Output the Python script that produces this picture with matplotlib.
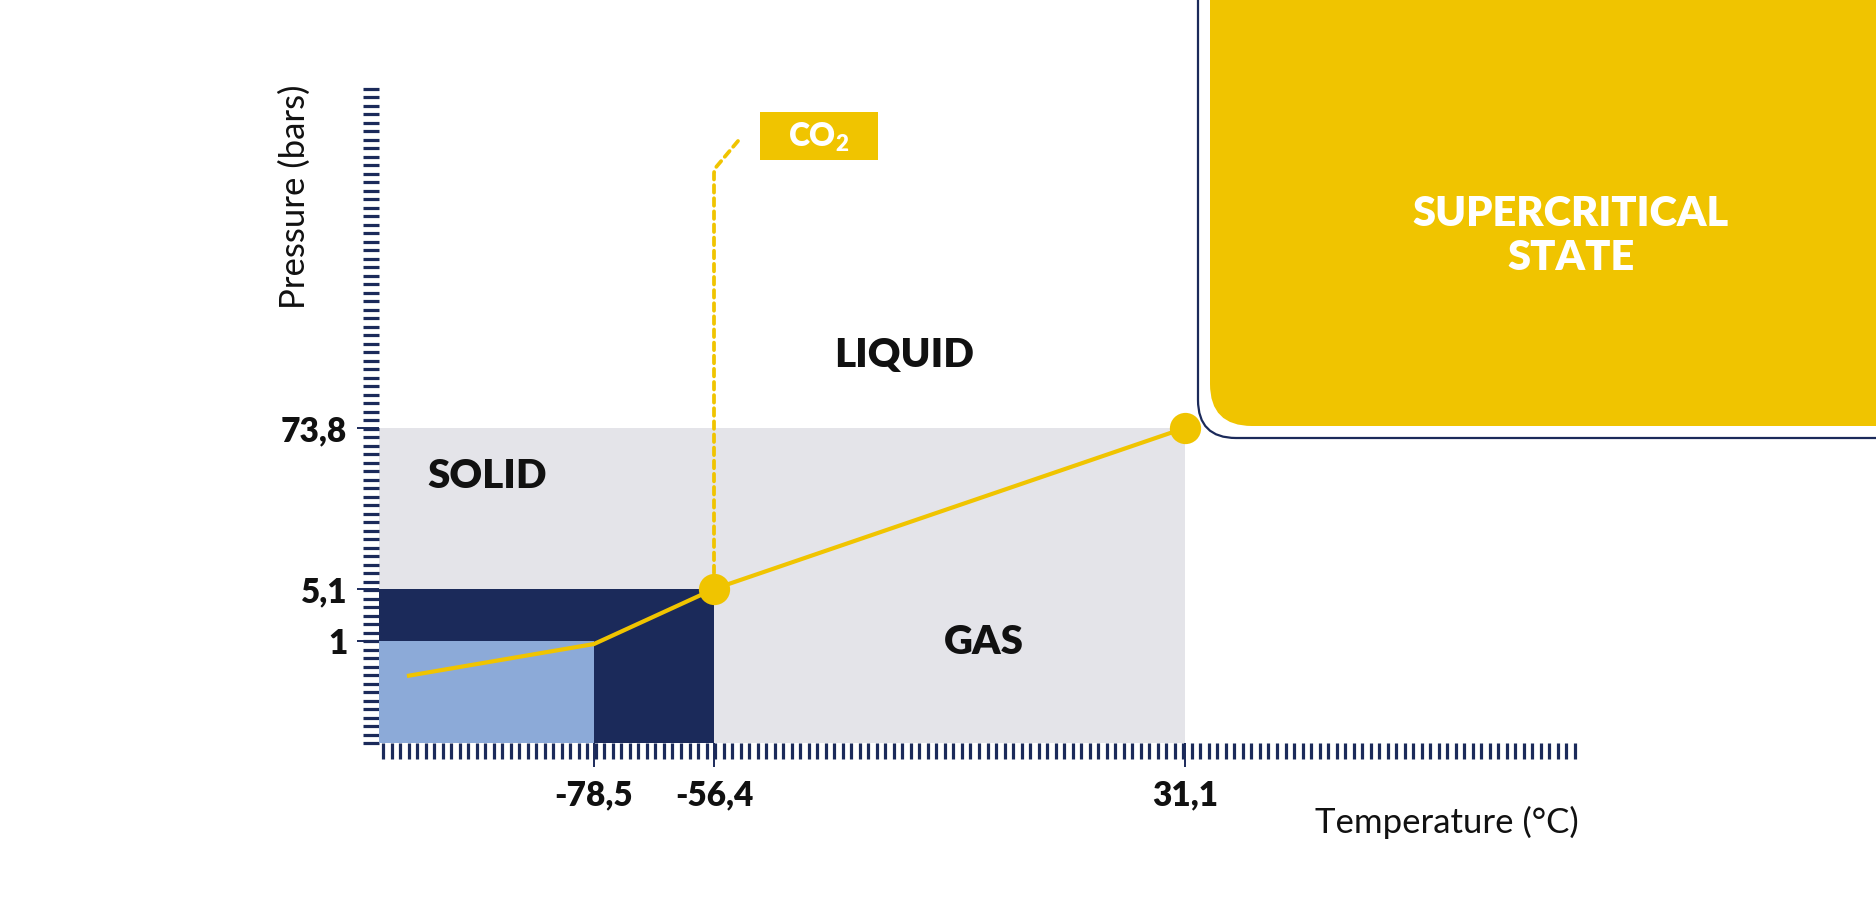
import numpy as np
import matplotlib
matplotlib.use('Agg')
import matplotlib.pyplot as plt
from matplotlib.patches import FancyBboxPatch, Rectangle
from matplotlib.ticker import FixedLocator

plt.rcParams['font.family'] = ['Lato', 'DejaVu Sans']
plt.rcParams['mathtext.default'] = 'regular'

# ---- data (CO2 phase diagram) ----
temp_ticks = [-78.5, -56.4, 31.1]
temp_labels = ['-78,5', '-56,4', '31,1']
pres_ticks = [1, 5.1, 73.8]
pres_labels = ['1', '5,1', '73,8']

curve_T = [-97, -78.5, -56.4, 31.1]
curve_P = [0.66, 0.97, 5.1, 73.8]
triple_point = (-56.4, 5.1)
critical_point = (31.1, 73.8)

t_min, t_max = -100, 80
p_min, p_max = 0, 220

# regions: (temperature limit, pressure limit)
gas_region = (31.1, 73.8)
solid_region = (-56.4, 5.1)
low_region = (-78.5, 1)

yellow = '#F0C400'
navy = '#1B2A5A'
lightblue = '#8CAAD8'
grey = '#E4E4E9'
ink = '#111111'

W, H = 1876, 917
fig = plt.figure(figsize=(W / 100, H / 100), dpi=100)

# axes box in pixels: left 379, right 1578, bottom 743, top 86
ax = fig.add_axes([379 / W, (H - 743) / H, 1199 / W, 657 / H])

# piecewise scales so the labelled values sit where the diagram puts them
t_break = [t_min] + temp_ticks + [t_max]
x_frac = [0, 0.1793, 0.2794, 0.6722, 1]
p_break = [p_min] + pres_ticks + [p_max]
y_frac = [0, 0.1553, 0.2344, 0.4795, 1]

fx = lambda t: np.interp(t, t_break, x_frac)
fx_inv = lambda f: np.interp(f, x_frac, t_break)
fy = lambda p: np.interp(p, p_break, y_frac)
fy_inv = lambda f: np.interp(f, y_frac, p_break)

ax.set_xscale('function', functions=(fx, fx_inv))
ax.set_yscale('function', functions=(fy, fy_inv))
ax.set_xlim(t_min, t_max)
ax.set_ylim(p_min, p_max)

ax.fill_between([t_min, gas_region[0]], p_min, gas_region[1], color=grey, lw=0, zorder=1)
ax.fill_between([t_min, solid_region[0]], p_min, solid_region[1], color=navy, lw=0, zorder=2)
ax.fill_between([t_min, low_region[0]], p_min, low_region[1], color=lightblue, lw=0, zorder=3)

ax.plot(curve_T, curve_P, color=yellow, lw=3.0, zorder=4, solid_joinstyle='miter')
ax.plot([triple_point[0], critical_point[0]], [triple_point[1], critical_point[1]],
        'o', ms=22.5, color=yellow, mec='none', zorder=6, clip_on=False)

for s in ax.spines.values():
    s.set_visible(False)
ax.set_facecolor('none')

ax.set_xticks(temp_ticks, temp_labels)
ax.set_yticks(pres_ticks, pres_labels)
ax.xaxis.set_minor_locator(FixedLocator(fx_inv((np.linspace(383, 1575, 141) - 379) / 1199)))
ax.yaxis.set_minor_locator(FixedLocator(fy_inv((743 - np.linspace(743, 89, 78)) / 657)))
ax.xaxis.set_minor_formatter(plt.NullFormatter())
ax.yaxis.set_minor_formatter(plt.NullFormatter())

ax.tick_params(axis='x', which='major', length=17.3, width=1.4, color=navy, pad=9)
ax.tick_params(axis='y', which='major', length=15.8, width=1.4, color=navy, pad=7)
ax.tick_params(which='minor', length=11.5, width=2.3, color=navy)
for lab in ax.get_xticklabels() + ax.get_yticklabels():
    lab.set_fontsize(24)
    lab.set_fontweight('heavy')
    lab.set_color(ink)

# ---- overlay in figure pixels for boxes and labels ----
deco = fig.add_axes([0, 0, 1, 1], zorder=3)
deco.set_xlim(0, W)
deco.set_ylim(H, 0)
deco.axis('off')
deco.set_facecolor('none')

deco.add_patch(FancyBboxPatch((1210, -300), W + 300 - 1210, 426 + 300,
                              boxstyle='round,pad=0,rounding_size=42',
                              facecolor=yellow, edgecolor='none'))
deco.add_patch(FancyBboxPatch((1198, -300), W + 300 - 1198, 438 + 300,
                              boxstyle='round,pad=0,rounding_size=38',
                              facecolor='none', edgecolor=navy, lw=1.6))
deco.text(1571, 236, 'SUPERCRITICAL\nSTATE', color='white', fontsize=30,
          fontweight='heavy', ha='center', va='center', linespacing=1.2)

# CO2 callout
deco.annotate('', xy=triple_point, xycoords=ax.transData, xytext=(738, 141),
              textcoords='data',
              arrowprops=dict(arrowstyle='-', color=yellow, lw=2.7,
                              linestyle=(0, (2.0, 1.5)), shrinkA=0, shrinkB=11,
                              connectionstyle='angle,angleA=50,angleB=90,rad=4'))
deco.add_patch(Rectangle((760, 112), 118, 48, facecolor=yellow, edgecolor='none'))
deco.text(819, 137, 'CO$_2$', color='white', fontsize=23, fontweight='heavy',
          ha='center', va='center')

deco.text(487, 476, 'SOLID', fontsize=29, fontweight='heavy', color=ink, ha='center', va='center')
deco.text(904, 355, 'LIQUID', fontsize=29, fontweight='heavy', color=ink, ha='center', va='center')
deco.text(984, 642, 'GAS', fontsize=29, fontweight='heavy', color=ink, ha='center', va='center')

deco.text(295, 197, 'Pressure (bars)', fontsize=25, color=ink, rotation=90,
          ha='center', va='center')
deco.text(1447, 822, 'Temperature (°C)', fontsize=25, color=ink, ha='center', va='center')

fig.savefig('out.png', dpi=100)
